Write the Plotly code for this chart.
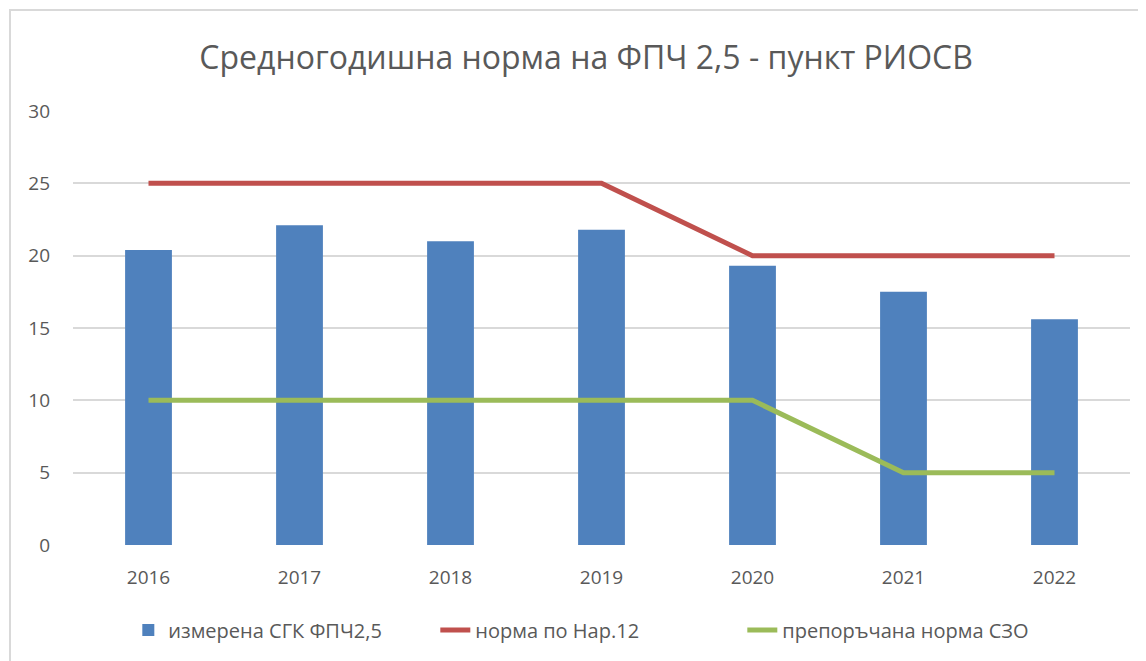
import plotly.graph_objects as go

years = ["2016", "2017", "2018", "2019", "2020", "2021", "2022"]
measured = [20.4, 22.1, 21.0, 21.8, 19.3, 17.5, 15.6]
norm_nar12 = [25, 25, 25, 25, 20, 20, 20]
who_norm = [10, 10, 10, 10, 10, 5, 5]
y_ticks = [0, 5, 10, 15, 20, 25, 30]

FONT = "Open Sans"
GREY = "#595959"

fig = go.Figure()
fig.add_trace(go.Bar(x=years, y=measured, name="измерена СГК ФПЧ2,5",
                     marker=dict(color="#4F81BD", line=dict(width=0)), width=0.31))
fig.add_trace(go.Scatter(x=years, y=norm_nar12, name="норма по Нар.12", mode="lines",
                         line=dict(color="#C0504D", width=5)))
fig.add_trace(go.Scatter(x=years, y=who_norm, name="препоръчана норма СЗО", mode="lines",
                         line=dict(color="#9BBB59", width=5)))

fig.update_layout(
    width=1138, height=653,
    margin=dict(l=65, r=16, t=103, b=116, autoexpand=False),
    paper_bgcolor="white", plot_bgcolor="white",
    title=dict(text="Средногодишна норма на ФПЧ 2,5 - пункт РИОСВ",
               x=0.508, xanchor="center", y=0.924, yanchor="middle",
               font=dict(family=FONT, size=32, color=GREY)),
    font=dict(family=FONT, size=19, color=GREY),
    xaxis=dict(type="category", showgrid=False, zeroline=False, showline=False,
               ticks="", automargin=False, ticklabelstandoff=19,
               tickfont=dict(size=19, color=GREY)),
    yaxis=dict(range=[0, 30], tickvals=y_ticks, showgrid=True, gridcolor="#D9D9D9",
               gridwidth=1.5, zeroline=False, showline=False, ticks="",
               automargin=False, ticklabelstandoff=22,
               tickfont=dict(size=19, color=GREY)),
    legend=dict(orientation="h", x=0.488, xanchor="center", y=-0.196, yanchor="middle",
                font=dict(size=20, color=GREY), tracegroupgap=0,
                entrywidth=262, entrywidthmode="pixels"),
    bargap=0.69,
    showlegend=True,
)
fig.add_shape(type="rect", xref="paper", yref="paper",
              x0=-0.0596, x1=1.1, y0=-0.4, y1=1.233,
              line=dict(color="#D9D9D9", width=2), fillcolor="rgba(0,0,0,0)", layer="below")

fig.write_html("out.html")
